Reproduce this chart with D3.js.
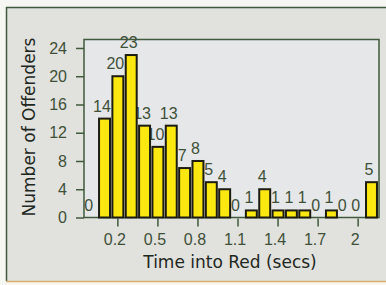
<!DOCTYPE html>
<html><head><meta charset="utf-8">
<script src="https://cdn.jsdelivr.net/npm/d3@7"></script>
<style>html,body{margin:0;padding:0;background:#f6f6f2;}svg{display:block;}</style>
</head><body>
<script>
const binTimes = [0.0,0.1,0.2,0.3,0.4,0.5,0.6,0.7,0.8,0.9,1.0,1.1,1.2,1.3,1.4,1.5,1.6,1.7,1.8,1.9,2.0,2.1];
const offenders = [0,14,20,23,13,10,13,7,8,5,4,0,1,4,1,1,1,0,1,0,0,5];
const xTicks = [0.2,0.5,0.8,1.1,1.4,1.7,2];
const yTicks = [0,4,8,12,16,20,24];
const xTitle = "Time into Red (secs)";
const yTitle = "Number of Offenders";

const data = binTimes.map((t,i)=>({t:t, v:offenders[i]}));

const W = 386, H = 285;
const svg = d3.select("body").append("svg").attr("width", W).attr("height", H);

// outer panel
svg.append("rect").attr("x",6).attr("y",7).attr("width",W).attr("height",274).attr("fill","#e1e1dd");
svg.append("line").attr("x1",6).attr("x2",W).attr("y1",7.5).attr("y2",7.5).attr("stroke","#3f5a3c").attr("stroke-width",1.5);
svg.append("line").attr("x1",6.5).attr("x2",6.5).attr("y1",7).attr("y2",281).attr("stroke","#3f5a3c").attr("stroke-width",1.5);
svg.append("line").attr("x1",6).attr("x2",W).attr("y1",281.5).attr("y2",281.5).attr("stroke","#d8b070").attr("stroke-width",1.5);

const L = 84, R = 379, T = 39.5, B = 217.5;
const x = d3.scaleLinear().domain([-0.05, 2.16]).range([L, R]);
const y = d3.scaleLinear().domain([0, 25.2]).range([B, T]);

// plot area
svg.append("rect").attr("x",L).attr("y",T).attr("width",R-L).attr("height",B-T)
  .attr("fill","#e5e7e8").attr("stroke","#3f5a3c").attr("stroke-width",1.5);

const numFont = "'Liberation Sans', Arial, sans-serif";
const txtFont = "'DejaVu Sans', sans-serif";
const numColor = "#3e5038";

// y axis
const yAxis = d3.axisLeft(y).tickValues(yTicks).tickSize(8).tickPadding(9);
const ya = svg.append("g").attr("transform",`translate(${L},0)`).call(yAxis);
ya.select(".domain").remove();
ya.selectAll(".tick line").attr("stroke","#3f5a3c").attr("stroke-width",1.5);
ya.selectAll(".tick text").attr("fill",numColor).style("font-family",numFont).style("font-size","16px");

// x axis
const xAxis = d3.axisBottom(x).tickValues(xTicks).tickSize(9).tickPadding(7).tickFormat(d3.format("~g"));
const xa = svg.append("g").attr("transform",`translate(0,${B})`).call(xAxis);
xa.select(".domain").remove();
xa.selectAll(".tick line").attr("stroke","#3f5a3c").attr("stroke-width",1.5).attr("y1",1);
xa.selectAll(".tick text").attr("fill",numColor).attr("dx",-3).style("font-family",numFont).style("font-size","16px");

// value labels (drawn under bars)
const bw = 13.35 * 0.82;
svg.append("g").selectAll("text").data(data).join("text")
  .attr("x",d=>x(d.t) - 2)
  .attr("y",d=>y(d.v) - 7)
  .attr("text-anchor","middle")
  .attr("fill",numColor)
  .style("font-family",numFont).style("font-size","16px")
  .text(d=>d.v);

// bars
svg.append("g").selectAll("rect").data(data.filter(d=>d.v>0)).join("rect")
  .attr("x",d=>x(d.t) - bw/2 + 0.5)
  .attr("y",d=>y(d.v))
  .attr("width",bw)
  .attr("height",d=>B - y(d.v))
  .attr("fill","#fbe810")
  .attr("stroke","#1c1c10").attr("stroke-width",2);

// titles
svg.append("text").attr("x",(143+317)/2).attr("y",268).attr("text-anchor","middle")
  .attr("fill","#1e281e").style("font-family",txtFont).style("font-size","17px").text(xTitle);
svg.append("text").attr("transform",`translate(35,${(216+38)/2}) rotate(-90)`).attr("text-anchor","middle")
  .attr("fill","#1e281e").style("font-family",txtFont).style("font-size","17px").text(yTitle);
</script>
</body></html>
